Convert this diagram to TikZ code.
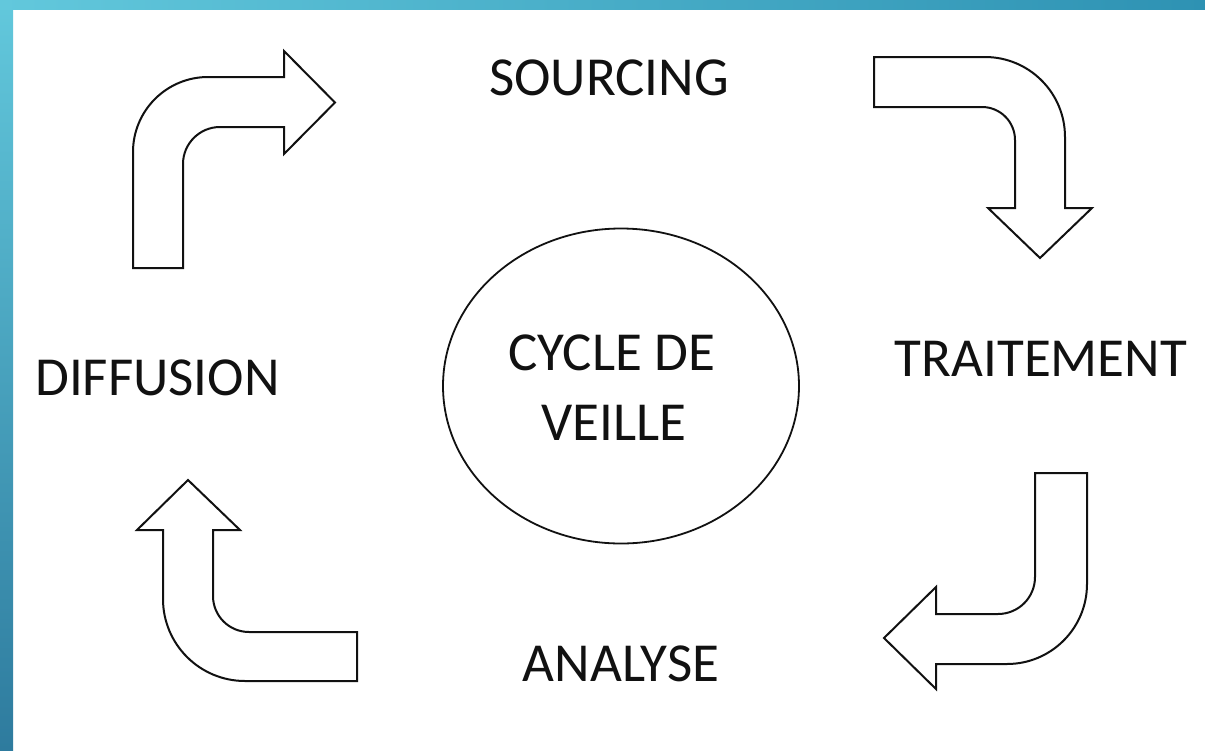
\documentclass[tikz,border=0pt]{standalone}
\usepackage{fontspec}
\setmainfont{Carlito}
\usetikzlibrary{shapes.geometric}
\definecolor{frameA}{HTML}{62C8DC}
\definecolor{frameB}{HTML}{2E92B3}
\definecolor{frameC}{HTML}{2E7B9E}
\definecolor{ink}{HTML}{111111}
\tikzset{
  bentarrow/.style={draw=ink, line width=2pt, fill=white, line join=miter},
  label/.style={font=\fontsize{55}{66}\selectfont, text=ink, anchor=base, inner sep=0pt},
}
\begin{document}
\begin{tikzpicture}[x={(1pt,0pt)}, y={(0pt,-1pt)}]
\useasboundingbox (0,0) rectangle (1205,750);
\fill[white] (0,0) rectangle (1205,750);
% frame strips
\shade[top color=frameA, bottom color=frameC] (0,0) rectangle (13,750);
\shade[left color=frameA, right color=frameB] (0,0) rectangle (1205,9);

% arrow 1 (top-left, up then right)
\draw[bentarrow] (133,268) -- (133,152) .. controls (133,110.6) and (166.6,77) .. (208,77)
  -- (284,77) -- (284,51) -- (335,102.5) -- (284,154) -- (284,127) -- (220,127)
  .. controls (199.6,127) and (183,143.6) .. (183,164) -- (183,268) -- cycle;

% arrow 2 (top-right, right then down)
\draw[bentarrow] (874,57) -- (985,57) .. controls (1029.2,57) and (1065,92.8) .. (1065,137)
  -- (1065,208) -- (1092,208) -- (1040,258) -- (988,208) -- (1015,208) -- (1015,140)
  .. controls (1015,121.8) and (1000.2,107) .. (982,107) -- (874,107) -- cycle;

% arrow 3 (bottom-right, down then left)
\draw[bentarrow] (1035,473) -- (1087,473) -- (1087,584) .. controls (1087,628.2) and (1051.2,664) .. (1007,664)
  -- (936,664) -- (936,689) -- (884,638) -- (936,587) -- (936,614) -- (998,614)
  .. controls (1018.4,614) and (1035,597.6) .. (1035,577) -- cycle;

% arrow 4 (bottom-left, left then up)
\draw[bentarrow] (357,632) -- (357,681) -- (245,681) .. controls (199.7,681) and (163,644.3) .. (163,599)
  -- (163,530) -- (137,530) -- (188,480) -- (240,530) -- (213,530) -- (213,596)
  .. controls (213,615.9) and (229.1,632) .. (249,632) -- cycle;

% centre ellipse
\node[ellipse, draw=ink, line width=1.8pt, minimum width=356pt, minimum height=315pt, inner sep=0pt] (cycle) at (621,386) {};
\node[label] (cyc1) at (612,370) {CYCLE DE};
\node[label] (cyc2) at (614,440) {VEILLE};

% stage labels
\node[label] (sourcing) at (609,95) {SOURCING};
\node[label] (traitement) at (1041,376) {TRAITEMENT};
\node[label] (analyse) at (621,681) {ANALYSE};
\node[label] (diffusion) at (157.5,395) {DIFFUSION};
\end{tikzpicture}
\end{document}
